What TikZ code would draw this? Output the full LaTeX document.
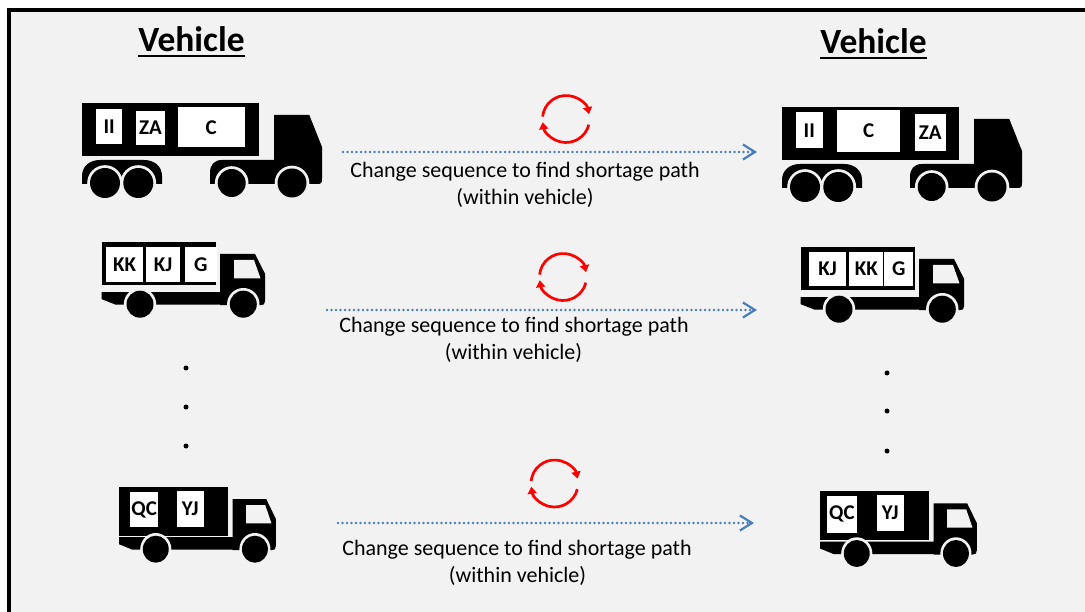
\documentclass[tikz,border=0pt]{standalone}
\usepackage{fontspec}
\setmainfont{Carlito}
\usetikzlibrary{arrows.meta}
\definecolor{panelbg}{RGB}{242,242,242}
\definecolor{flowblue}{RGB}{74,126,187}
\definecolor{swapred}{RGB}{255,0,0}

\tikzset{
  cargo/.style={fill=white, inner sep=0pt, font=\fontsize{21}{25}\selectfont\bfseries},
  heading/.style={anchor=base, inner sep=0pt, font=\fontsize{35.5}{42}\selectfont\bfseries},
  caption/.style={anchor=base, inner sep=0pt, font=\fontsize{22}{27}\selectfont},
  flow/.style={draw=flowblue, line width=2.8pt, line cap=round, dash pattern=on 0pt off 4.5pt,
    -{Straight Barb[length=12pt,width=15pt,line width=2.2pt]}},
  dotmark/.style={circle, fill=black, inner sep=0pt, minimum size=5pt},
  swaparc/.style={draw=swapred, line width=2.7pt, -{Triangle[length=7pt,width=9pt]}},
  % articulated lorry, origin at the trailer's top-left corner
  semitruck/.pic={
    \fill (0,0) rectangle (176.5,53.3);
    \fill (0,81) -- (0,73) .. controls (0,63) and (8,57) .. (18,57) -- (62,57)
          .. controls (72,57) and (80,63) .. (80,73) -- (80,81) -- cycle;
    \fill (192,12) -- (227.3,12) -- (240,44) -- (240,76) .. controls (240,80) and (239,81) .. (235,81)
          -- (128,81) -- (128,70) .. controls (128,62) and (132,57) .. (140,57) -- (192,57) -- cycle;
    \foreach \wx/\wr in {23/15, 56.3/15, 149.7/14, 210/14.5} {
      \fill[panelbg] (\wx,80) circle[radius=\wr+2.8];
      \fill (\wx,80) circle[radius=\wr];
    }
  },
  % box lorry, origin at the body's top-left corner; #1 = depth of the body
  boxtruck/.pic={
    \fill (0,0) rectangle (114,#1);
    \fill (0,50.5) -- (119,50.5) -- (119,63) -- (14,63) -- (0,57.5) -- cycle;
    \fill (118.3,12.3) -- (153.3,12.3) -- (163.3,32) -- (163.3,59.5)
          .. controls (163.3,62.5) and (162,63.5) .. (159,63.5) -- (118.3,63.5) -- cycle;
    \fill[panelbg] (132.3,18.3) -- (152.3,18.3) -- (158.8,36.6) -- (132.3,36.6) -- cycle;
    \foreach \wx in {38.3,141.6} {
      \fill[panelbg] (\wx,62.5) circle[radius=16.2];
      \fill (\wx,62.5) circle[radius=13.5];
    }
  },
  % red circular "reorder" symbol
  cycleicon/.pic={
    \draw[swaparc] (-174:23.5) arc[start angle=-174, end angle=-12, radius=23.5];
    \draw[swaparc] (14:23.5) arc[start angle=14, end angle=172, radius=23.5];
  }
}

\begin{document}
\begin{tikzpicture}[x=1pt, y=-1pt]
  \useasboundingbox (0,0) rectangle (1085,612);
  \fill[white] (0,0) rectangle (1085,612);
  \fill[panelbg] (9,10) rectangle (1085,612);
  \draw[line width=4pt] (9,612) -- (9,10) -- (1085,10);

  % column headings
  \node[heading] (hl) at (191.5,52) {Vehicle};
  \node[heading] (hr) at (873.5,54) {Vehicle};
  \draw[line width=2pt] ([yshift=-4.5pt]hl.base west) -- ([yshift=-4.5pt]hl.base east);
  \draw[line width=2pt] ([yshift=-4.5pt]hr.base west) -- ([yshift=-4.5pt]hr.base east);

  % lorries
  \begin{scope}[shift={(82,103)}] \pic {semitruck}; \end{scope}
  \begin{scope}[shift={(782,107)}] \pic {semitruck}; \end{scope}
  \begin{scope}[shift={(101.7,241.7)}] \pic {boxtruck=43.3}; \end{scope}
  \begin{scope}[shift={(800.7,246.7)}] \pic {boxtruck=43.3}; \end{scope}
  \begin{scope}[shift={(119,486.7)}, x=0.96pt] \pic {boxtruck=49}; \end{scope}
  \begin{scope}[shift={(820,491)}, x=0.96pt] \pic {boxtruck=49}; \end{scope}

  % loads, first lorry
  \node[cargo, minimum width=26.3pt, minimum height=34.7pt] (a1) at (109.2,126.7) {II};
  \node[cargo, minimum width=28.4pt, minimum height=34.3pt] (a2) at (150.5,127.8) {ZA};
  \node[cargo, minimum width=66.7pt, minimum height=40pt]   (a3) at (211.3,127.3) {C};
  \node[cargo, minimum width=26.7pt, minimum height=36pt]   (b1) at (809.3,130.3) {II};
  \node[cargo, minimum width=62.7pt, minimum height=41.7pt] (b2) at (868.7,130.8) {C};
  \node[cargo, minimum width=30.7pt, minimum height=36.7pt] (b3) at (930.3,132.7) {ZA};

  % loads, second lorry
  \node[cargo, minimum width=37.3pt, minimum height=34.4pt] (c1) at (124.7,264.5) {KK};
  \node[cargo, minimum width=34pt,   minimum height=34.4pt] (c2) at (163,264.5) {KJ};
  \node[cargo, minimum width=31.7pt, minimum height=34.4pt] (c3) at (200.8,264.5) {G};
  \node[cargo, minimum width=36.7pt, minimum height=34.3pt] (d1) at (827.7,268.8) {KJ};
  \node[cargo, minimum width=34pt,   minimum height=34.3pt] (d2) at (866.3,268.8) {KK};
  \node[cargo, minimum width=29.3pt, minimum height=34.3pt] (d3) at (898.7,268.8) {G};

  % loads, last lorry
  \node[cargo, minimum width=28.3pt, minimum height=35.6pt] (e1) at (144.2,509.5) {QC};
  \node[cargo, minimum width=27.3pt, minimum height=35.7pt] (e2) at (190.3,508.8) {YJ};
  \node[cargo, minimum width=30.6pt, minimum height=36.7pt] (f1) at (842,514.3) {QC};
  \node[cargo, minimum width=27.3pt, minimum height=35.7pt] (f2) at (890.3,512.8) {YJ};

  % ellipsis between rows
  \node[dotmark] (ld1) at (186,368) {};
  \node[dotmark] (ld2) at (186,407) {};
  \node[dotmark] (ld3) at (186,446) {};
  \node[dotmark] (rd1) at (887,373) {};
  \node[dotmark] (rd2) at (887,411) {};
  \node[dotmark] (rd3) at (887,451) {};

  % reorder symbols
  \pic at (566,119) {cycleicon};
  \pic at (563,277) {cycleicon};
  \pic at (554.5,483.5) {cycleicon};

  % transformation arrows
  \coordinate (s1) at (343,152);  \coordinate (t1) at (757,152);
  \coordinate (s2) at (327,310);  \coordinate (t2) at (757,310);
  \coordinate (s3) at (338,523);  \coordinate (t3) at (754,523);
  \draw[flow] (s1) -- (t1);
  \draw[flow] (s2) -- (t2);
  \draw[flow] (s3) -- (t3);

  % captions
  \node[caption] (k1a) at (525,177.5) {Change sequence to find shortage path};
  \node[caption] (k1b) at (525,204.5) {(within vehicle)};
  \node[caption] (k2a) at (514,333)   {Change sequence to find shortage path};
  \node[caption] (k2b) at (513.5,360) {(within vehicle)};
  \node[caption] (k3a) at (517,555)   {Change sequence to find shortage path};
  \node[caption] (k3b) at (517.5,582) {(within vehicle)};
\end{tikzpicture}
\end{document}
